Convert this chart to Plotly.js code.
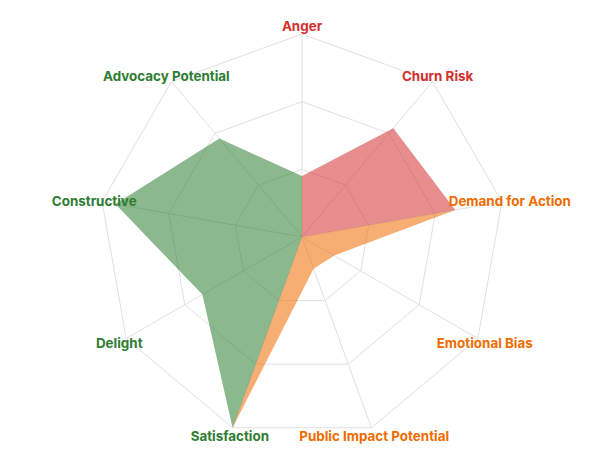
<!DOCTYPE html>
<html>
<head>
<meta charset="utf-8">
<script src="https://cdn.plot.ly/plotly-3.0.1.min.js"></script>
<style>html,body{margin:0;padding:0;background:#fff;}#chart{width:597px;height:475px;}</style>
</head>
<body>
<div id="chart"></div>
<script>
const categories = ["Anger","Churn Risk","Demand for Action","Emotional Bias","Public Impact Potential","Satisfaction","Delight","Constructive","Advocacy Potential"];
const labelColors = ["#d32f2f","#d32f2f","#ef6c00","#ef6c00","#ef6c00","#2e7d32","#2e7d32","#2e7d32","#2e7d32"];
const negativeValues = [0.9, 2.1, 2.3, 0, 0, 0, 0, 0, 0];
const neutralValues  = [0, 0, 2.3, 0.55, 0.5, 3.0, 0, 0, 0];
const positiveValues = [0.9, 0, 0, 0, 0, 3.0, 1.7, 2.8, 1.9];
const radialMax = 3;

function closed(a){ return a.concat([a[0]]); }
const theta = closed(categories);

const traces = [
  {type:"scatterpolar", r: closed(negativeValues), theta: theta, fill:"toself", mode:"lines",
   line:{width:0, color:"#d32f2f"}, fillcolor:"rgba(211,47,47,0.55)", name:"Negative", hoverinfo:"skip"},
  {type:"scatterpolar", r: closed(neutralValues), theta: theta, fill:"toself", mode:"lines",
   line:{width:0, color:"#ef6c00"}, fillcolor:"rgba(239,108,0,0.55)", name:"Neutral", hoverinfo:"skip"},
  {type:"scatterpolar", r: closed(positiveValues), theta: theta, fill:"toself", mode:"lines",
   line:{width:0, color:"#2e7d32"}, fillcolor:"rgba(46,125,50,0.55)", name:"Positive", hoverinfo:"skip"},
  {type:"scatterpolar", subplot:"polar2", r: categories.map(()=>radialMax), theta: categories, mode:"text",
   text: categories.map(c=>'<b>'+c+'</b>'), textposition: "middle center", cliponaxis:false,
   textfont:{family:"Inter, sans-serif", size:13.4, color: labelColors}, hoverinfo:"skip", name:"labels"}
];

const plotH = 475 - 28 - 25;

const layout = {
  width:597, height:475,
  margin:{l:40, r:33, t:28, b:25},
  paper_bgcolor:"#fff",
  showlegend:false,
  font:{family:"Inter, sans-serif", size:13, color:"#444"},
  polar:{
    domain:{x:[0,1], y:[10/plotH, 1-6/plotH]},
    bgcolor:"#fff",
    gridshape:"linear",
    radialaxis:{range:[0,radialMax], dtick:1, showticklabels:false, ticks:"", showline:false, gridcolor:"#e0e0e0", gridwidth:1},
    angularaxis:{direction:"clockwise", rotation:90, showticklabels:false,
      gridcolor:"#e0e0e0", linecolor:"#e0e0e0", ticks:""}
  },
  polar2:{
    domain:{x:[0,1], y:[0,1]},
    bgcolor:"rgba(0,0,0,0)",
    gridshape:"linear",
    radialaxis:{range:[0,radialMax], visible:false, showgrid:false, showline:false, showticklabels:false, ticks:""},
    angularaxis:{direction:"clockwise", rotation:90, categoryarray:categories, visible:false, showgrid:false, showline:false, showticklabels:false, ticks:""}
  }
};

Plotly.newPlot("chart", traces, layout, {displayModeBar:false, staticPlot:true});
</script>
</body>
</html>
